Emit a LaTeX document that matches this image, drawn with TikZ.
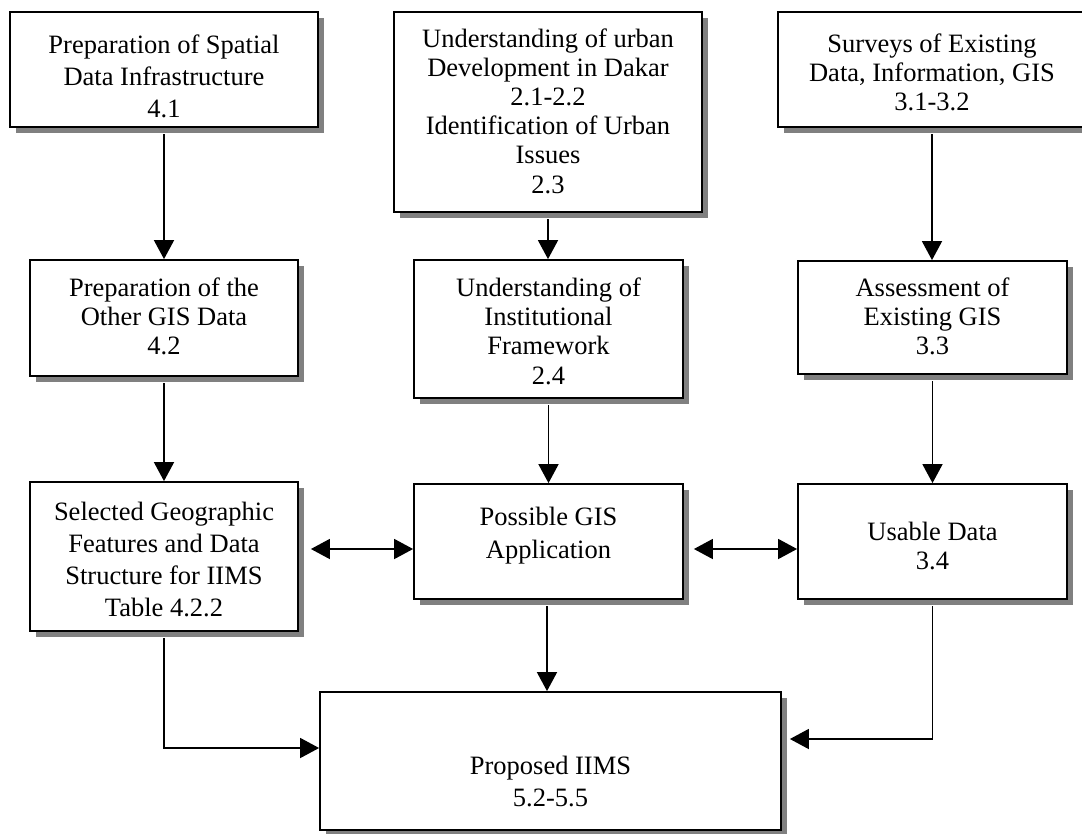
\documentclass[tikz,border=0pt]{standalone}
\usepackage{fontspec}
\setmainfont{Liberation Serif}
\usetikzlibrary{arrows.meta,shadows,calc}

\tikzset{
  box/.style={draw=black, line width=1.8pt, fill=white, inner sep=0pt,
    drop shadow={shadow xshift=6pt, shadow yshift=-6pt, fill=black!50, opacity=1}},
  label/.style={align=center, inner sep=0pt},
  conn/.style={line width=1.7pt, -{Triangle[length=19pt,width=20pt]}, shorten <=6.5pt},
  dbl/.style={line width=1.7pt, {Triangle[length=19pt,width=20pt]}-{Triangle[length=19pt,width=20pt]}}
}
\newcommand{\fs}[1]{\fontsize{26.5}{#1}\selectfont}

\begin{document}
\begin{tikzpicture}[x=1pt,y=-1pt]
\clip (0,0) rectangle (1082,833);
\fill[white] (0,0) rectangle (1082,833);

% boxes
\node[box, minimum width=308pt, minimum height=115pt] (b1) at (164,69.5) {};
\node[box, minimum width=308pt, minimum height=200pt] (b2) at (548,112) {};
\node[box, minimum width=308pt, minimum height=115pt] (b3) at (932,69.5) {};
\node[box, minimum width=268pt, minimum height=116pt] (b4) at (164,318) {};
\node[box, minimum width=269pt, minimum height=138pt] (b5) at (548.5,329) {};
\node[box, minimum width=269pt, minimum height=113pt] (b6) at (932.5,317.5) {};
\node[box, minimum width=268pt, minimum height=149pt] (b7) at (164,556.5) {};
\node[box, minimum width=269pt, minimum height=115pt] (b8) at (548.5,541.5) {};
\node[box, minimum width=269pt, minimum height=115pt] (b9) at (932.5,541.5) {};
\node[box, minimum width=461pt, minimum height=138pt] (b10) at (550.5,761) {};

% box texts
\node[label, font=\fs{32}] (t1) at (164,76) {Preparation of Spatial\\Data Infrastructure\\4.1};
\node[label, font=\fs{29.2}] (t2) at (548,111) {Understanding of urban\\Development in Dakar\\2.1-2.2\\Identification of Urban\\Issues\\2.3};
\node[label, font=\fs{29}] (t3) at (932,72) {Surveys of Existing\\Data, Information, GIS\\3.1-3.2};
\node[label, font=\fs{29}] (t4) at (164,316) {Preparation of the\\Other GIS Data\\4.2};
\node[label, font=\fs{29.3}] (t5) at (548.5,331) {Understanding of\\Institutional\\Framework\\2.4};
\node[label, font=\fs{29}] (t6) at (932.5,316) {Assessment of\\Existing GIS\\3.3};
\node[label, font=\fs{31.7}] (t7) at (164,559.5) {Selected Geographic\\Features and Data\\Structure for IIMS\\Table 4.2.2};
\node[label, font=\fs{33}] (t8) at (548.5,536) {Possible GIS\\Application};
\node[label, font=\fs{29}] (t9) at (932.5,546) {Usable Data\\3.4};
\node[label, font=\fs{32}] (t10) at (550.5,781) {Proposed IIMS\\5.2-5.5};

% vertical connectors
\draw[conn] (b1.south) -- (b1.south |- b4.north);
\draw[conn] (b4.south) -- (b4.south |- b7.north);
\draw[conn] (b2.south) -- (b2.south |- b5.north);
\draw[conn] (b5.south) -- (b5.south |- b8.north);
\draw[conn] (b3.south) -- (b3.south |- b6.north);
\draw[conn] (b6.south) -- (b6.south |- b9.north);
\draw[conn] ([xshift=-1.5pt]b8.south) -- ([xshift=-1.5pt]b8.south |- b10.north);

% two-way links in the third row
\coordinate (l1) at ($(b7.east)+(12,-7.5)$);
\draw[dbl] (l1) -- (l1 -| b8.west);
\coordinate (l2) at ($(b8.east)+(10,7.5)$);
\draw[dbl] (l2) -- (l2 -| b9.west);

% elbow connectors into the proposed system
\draw[conn] (b7.south) |- ([yshift=13pt]b10.west);
\draw[conn] (b9.south) |- ([xshift=8pt,yshift=22pt]b10.east);
\end{tikzpicture}
\end{document}
